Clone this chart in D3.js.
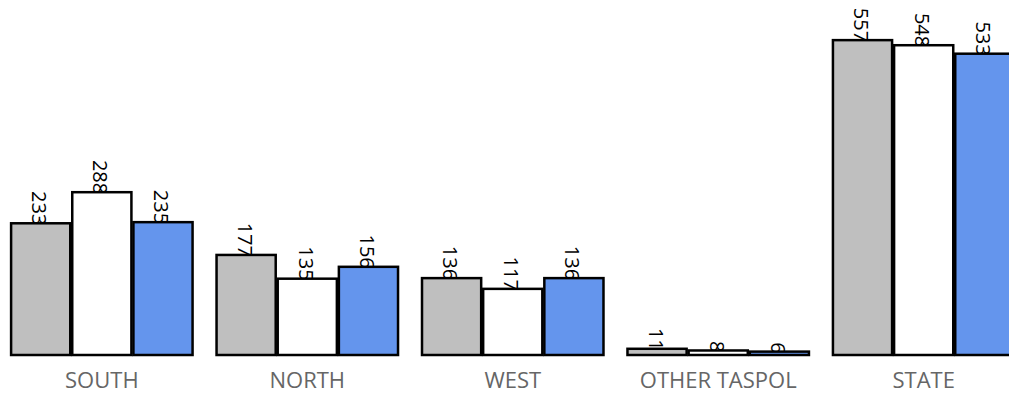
<!DOCTYPE html>
<html><head><meta charset="utf-8">
<script src="https://cdn.jsdelivr.net/npm/d3@7"></script>
<style>body{margin:0;background:#fff;overflow:hidden}</style>
</head><body>
<svg id="c" width="1009" height="394"></svg>
<script>
const categories = ["SOUTH","NORTH","WEST","OTHER TASPOL","STATE"];
const seriesNames = ["s1","s2","s3"];
const series1 = [233,177,136,11,557];
const series2 = [288,135,117,8,548];
const series3 = [235,156,136,6,533];
const colors = ["#bfbfbf","#ffffff","#6495ed"];

const data = categories.map((c,i)=>({cat:c, vals:[series1[i],series2[i],series3[i]]}));
const svg = d3.select("#c");
const x0 = d3.scaleBand().domain(categories).range([-1,1026.5]).paddingInner(0.107).paddingOuter(0.054);
const x1 = d3.scaleBand().domain(seriesNames).range([0,x0.bandwidth()]).padding(0);
const y = d3.scaleLinear().domain([0,628]).range([355,0]);

const g = svg.selectAll("g.grp").data(data).join("g").attr("class","grp")
  .attr("transform",d=>`translate(${x0(d.cat)},0)`);

const items = d=>d.vals.map((v,j)=>({v, s:seriesNames[j], j}));
g.selectAll("text.lbl").data(items).join("text").attr("class","lbl")
  .attr("transform",d=>`translate(${x1(d.s)+x1.bandwidth()/2 - 1},${y(d.v)+2}) rotate(90)`)
  .attr("text-anchor","end").attr("dominant-baseline","central")
  .attr("font-family","Open Sans, sans-serif").attr("font-size",20).attr("fill","#000")
  .text(d=>d.v);
g.selectAll("rect").data(items).join("rect")
  .attr("x",d=>x1(d.s)+1).attr("width",x1.bandwidth()-2)
  .attr("y",d=>y(d.v)).attr("height",d=>y(0)-y(d.v))
  .attr("fill",d=>colors[d.j]).attr("stroke","#000").attr("stroke-width",2.5);

const ax = svg.append("g").attr("transform","translate(0,354)").call(d3.axisBottom(x0).tickSize(0).tickPadding(18));
ax.select(".domain").remove();
ax.selectAll("text").attr("font-family","Open Sans, sans-serif").attr("font-size",22).attr("fill","#666");
</script>
</body></html>
